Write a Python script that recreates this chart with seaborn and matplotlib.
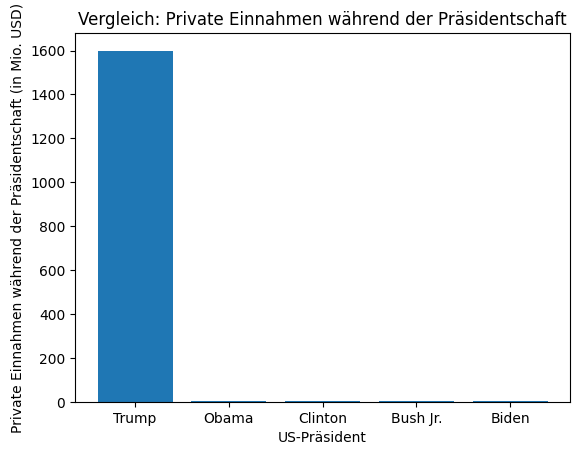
import matplotlib
matplotlib.use("Agg")
import matplotlib.pyplot as plt
import seaborn as sns
import pandas as pd

presidents = ["Trump", "Obama", "Clinton", "Bush Jr.", "Biden"]
einnahmen = [1600, 5, 5, 5, 5]

df = pd.DataFrame({"Präsident": presidents, "Einnahmen": einnahmen})

plt.rcdefaults()
plt.rcParams["font.family"] = ["DejaVu Sans"]

fig = plt.figure(figsize=(5.8, 4.55), dpi=100)
ax = fig.add_axes([75/580, 1 - 402/455, (570-75)/580, (402-33)/455])
sns.barplot(data=df, x="Präsident", y="Einnahmen", color="#1f77b4",
            saturation=1, width=0.8, linewidth=0, edgecolor="none", ax=ax)
ax.set_title("Vergleich: Private Einnahmen während der Präsidentschaft")
ax.set_xlabel("US-Präsident")
ax.set_ylabel("Private Einnahmen während der Präsidentschaft (in Mio. USD)")
ax.set_ylim(0, 1680)
ax.set_xlim(-0.64, 4.64)
fig.savefig("out.png", dpi=100)
